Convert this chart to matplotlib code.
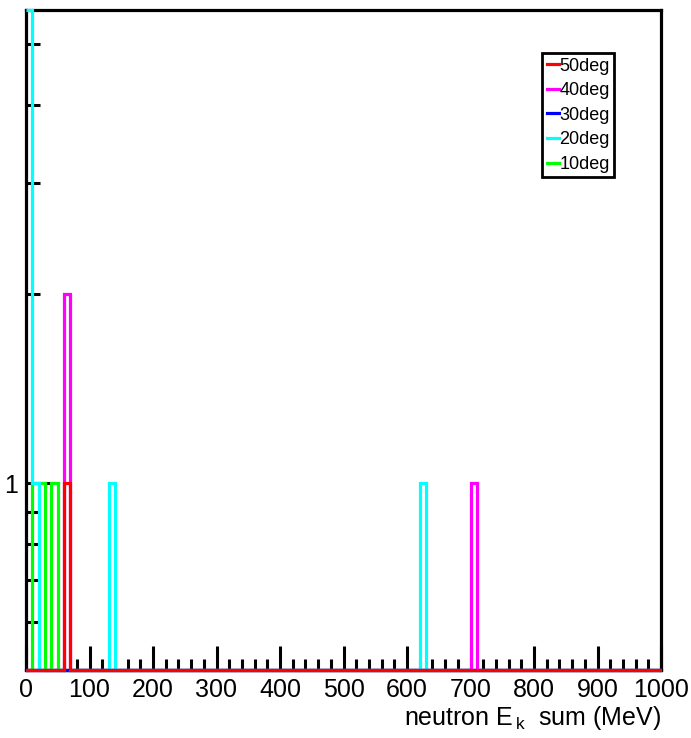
import matplotlib.pyplot as plt
import matplotlib.ticker as ticker
import numpy as np

plt.rcParams['font.family'] = ['Liberation Sans', 'DejaVu Sans']
plt.rcParams['mathtext.fontset'] = 'custom'
plt.rcParams['mathtext.rm'] = 'Liberation Sans'
plt.rcParams['mathtext.it'] = 'Liberation Sans'

# 100 bins of 10 MeV from 0 to 1000
edges = np.arange(0, 1001, 10)

# non-empty bins: (bin low edge in MeV, counts)
bins_10deg = {10: 1, 20: 1, 40: 1}
bins_20deg = {0: 6, 10: 1, 130: 1, 620: 1}
bins_30deg = {}
bins_40deg = {60: 2, 700: 1}
bins_50deg = {60: 1}

labels = ['50deg', '40deg', '30deg', '20deg', '10deg']
colors = ['#ff0000', '#ff00ff', '#0000ff', '#00ffff', '#00ff00']
series = [bins_50deg, bins_40deg, bins_30deg, bins_20deg, bins_10deg]

ybot, ytop = 0.504, 5.665


def fill(d):
    v = np.zeros(len(edges) - 1)
    for lo, c in d.items():
        v[lo // 10] = c
    return v


fig = plt.figure(figsize=(6.91, 7.38), dpi=100)
ax = fig.add_axes([26 / 691, 1 - 670 / 738, 635 / 691, 660 / 738])
ax.set_yscale('log')
ax.set_xlim(0, 1000)
ax.set_ylim(ybot, ytop)

handles = {}
# drawn 10deg first, 50deg last (on top)
for lab, col, d in reversed(list(zip(labels, colors, series))):
    v = fill(d)
    v = np.clip(np.where(v > 0, v, ybot), ybot, ytop)
    ax.stairs(v, edges, baseline=None, color=col, linewidth=2.3,
              clip_on=False, zorder=4)
    handles[lab] = plt.Line2D([], [], color=col, linewidth=2.3)

for s in ax.spines.values():
    s.set_linewidth(2.3)
    s.set_zorder(3)

ax.xaxis.set_major_locator(ticker.MultipleLocator(100))
ax.xaxis.set_minor_locator(ticker.MultipleLocator(20))
ax.yaxis.set_major_locator(ticker.FixedLocator([1]))
ax.yaxis.set_major_formatter(ticker.FixedFormatter(['1']))
ax.yaxis.set_minor_locator(ticker.FixedLocator([0.6, 0.7, 0.8, 0.9, 2, 3, 4, 5]))
ax.yaxis.set_minor_formatter(ticker.NullFormatter())

ax.tick_params(axis='x', which='major', direction='in', length=17, width=2.2,
               labelsize=18, pad=6, top=False)
ax.tick_params(axis='x', which='minor', direction='in', length=8, width=2.2, top=False)
ax.tick_params(axis='y', which='major', direction='in', length=20, width=2.2,
               labelsize=18, pad=6, right=False)
ax.tick_params(axis='y', which='minor', direction='in', length=10, width=2.2, right=False)

ax.set_xlabel(r'neutron E$_{\,\mathrm{k}}$  sum (MeV)', fontsize=18, loc='right', labelpad=1)

leg = ax.legend([handles[l] for l in labels], labels, loc='upper left',
                bbox_to_anchor=(516 / 635, 1 - 43 / 660), borderaxespad=0,
                fontsize=13, handlelength=0.7, handletextpad=0.0,
                labelspacing=0.42, borderpad=0.25, fancybox=False,
                framealpha=1, edgecolor='black')
leg.get_frame().set_linewidth(2)

fig.savefig('out.png', dpi=100)
